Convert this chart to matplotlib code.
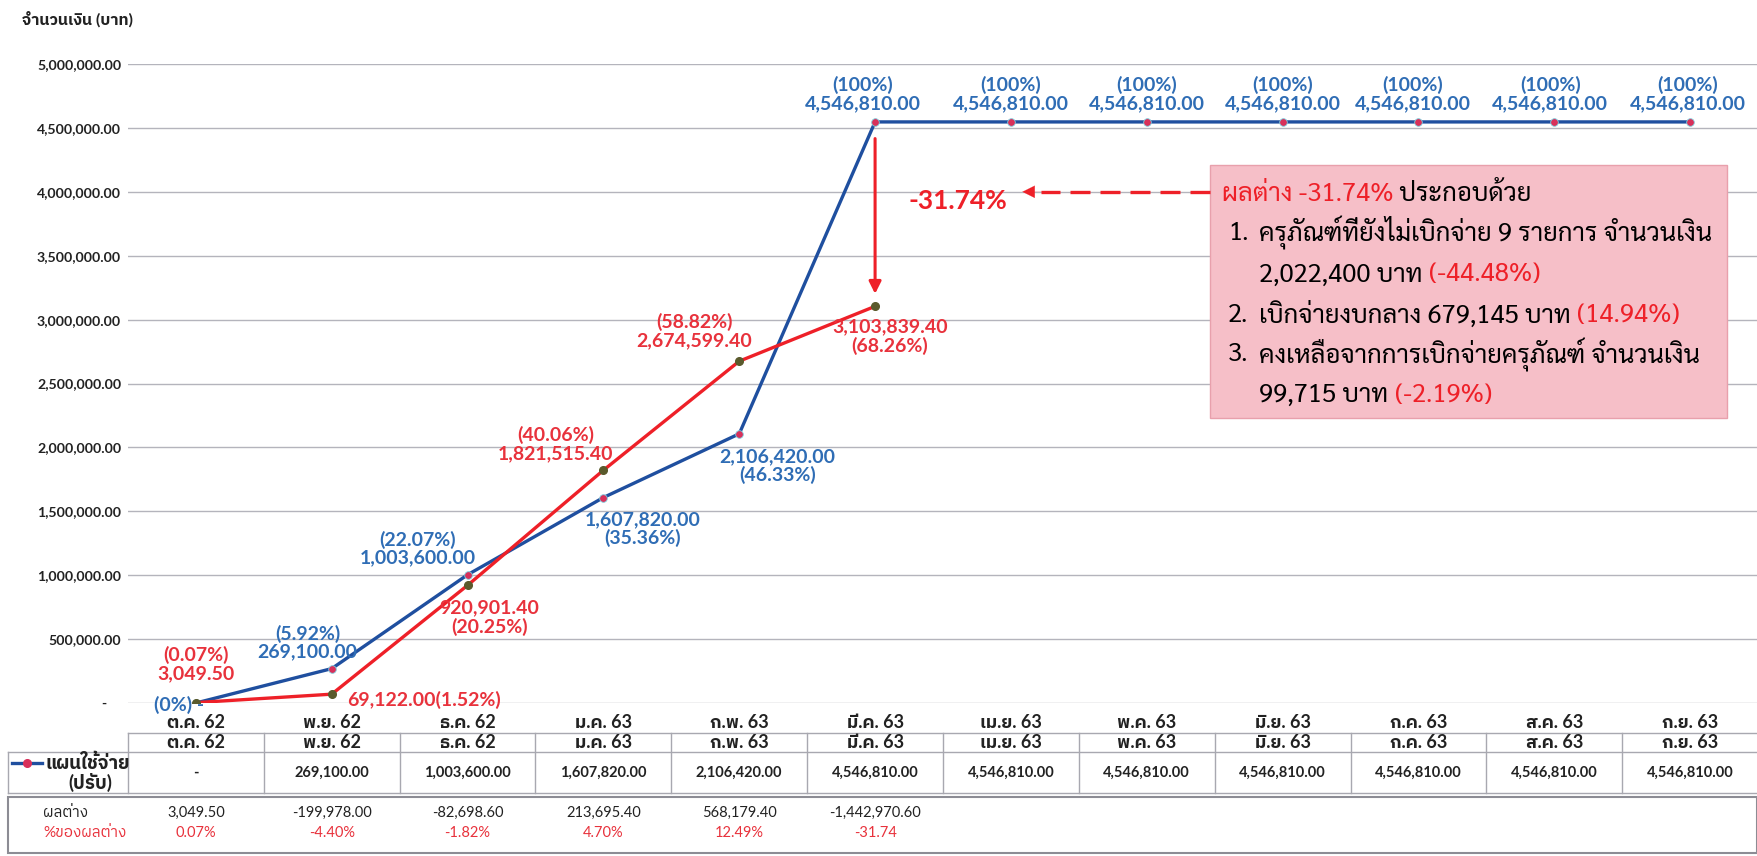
import matplotlib
matplotlib.use("Agg")
import matplotlib.pyplot as plt
from matplotlib.lines import Line2D
from matplotlib.patches import Rectangle
from matplotlib.transforms import blended_transform_factory

plt.rcParams['font.family'] = ['Lato', 'IBM Plex Sans Thai', 'DejaVu Sans']
BOX_FONT = ['Sarabun', 'IBM Plex Sans Thai Looped', 'DejaVu Sans']

months = ['ต.ค. 62', 'พ.ย. 62', 'ธ.ค. 62', 'ม.ค. 63', 'ก.พ. 63', 'มี.ค. 63',
          'เม.ย. 63', 'พ.ค. 63', 'มิ.ย. 63', 'ก.ค. 63', 'ส.ค. 63', 'ก.ย. 63']
plan = [0, 269100.00, 1003600.00, 1607820.00, 2106420.00, 4546810.00,
        4546810.00, 4546810.00, 4546810.00, 4546810.00, 4546810.00, 4546810.00]
plan_pct = ['0%', '5.92%', '22.07%', '35.36%', '46.33%', '100%',
            '100%', '100%', '100%', '100%', '100%', '100%']
actual = [3049.50, 69122.00, 920901.40, 1821515.40, 2674599.40, 3103839.40]
actual_pct = ['0.07%', '1.52%', '20.25%', '40.06%', '58.82%', '68.26%']
diff = [3049.50, -199978.00, -82698.60, 213695.40, 568179.40, -1442970.60]
diff_pct = ['0.07%', '-4.40%', '-1.82%', '4.70%', '12.49%', '-31.74']
y_ticks = [0, 500000, 1000000, 1500000, 2000000, 2500000,
           3000000, 3500000, 4000000, 4500000, 5000000]

BLUE = '#1f4f9f'
BLUE_TXT = '#2f6db5'
RED = '#ee2028'
RED_TXT = '#e8323c'
DARK = '#222222'
W, H = 1758, 856

fig = plt.figure(figsize=(W / 100, H / 100), dpi=100)
ax = fig.add_axes([128 / W, 1 - 703 / H, 1630 / W, 639 / H])

x_plan = list(range(len(plan)))
x_act = list(range(len(actual)))
ax.plot(x_plan, plan, color=BLUE, lw=2.4, marker='o', ms=5.5,
        mfc='#d8305a', mec='#7fd0e0', mew=0.6, zorder=4)
ax.plot(x_act, actual, color=RED, lw=2.4, marker='o', ms=5.5,
        mfc='#5a5a2c', mec='#5a5a2c', zorder=5)

ax.set_xlim(-0.5, 11.5)
ax.set_ylim(0, 5000000)
ax.set_yticks(y_ticks, labels=['-    ' if v == 0 else f'{v:,.2f}' for v in y_ticks],
              fontweight='bold', fontsize=10.2, color=DARK)
ax.set_xticks(x_plan, labels=months, fontweight='bold', fontsize=13, color=DARK)
ax.tick_params(length=0)
ax.tick_params(axis='y', pad=5)
ax.tick_params(axis='x', pad=8)
ax.grid(axis='y', color='#b4b4bc', lw=1)
for s in ax.spines.values():
    s.set_visible(False)

# data labels: (dx, dy, ha, va) in pixels
plan_layout = [(-17, -2, 'center', 'center'), (-24, 8, 'center', 'bottom'),
               (-50, 8, 'center', 'bottom'), (39, -14, 'center', 'top'),
               (38, -14, 'center', 'top'), (-12, 10, 'center', 'bottom'),
               (0, 10, 'center', 'bottom'), (0, 10, 'center', 'bottom'),
               (0, 10, 'center', 'bottom'), (-6, 10, 'center', 'bottom'),
               (-4, 10, 'center', 'bottom'), (-2, 10, 'center', 'bottom')]
for i, (v, p) in enumerate(zip(plan, plan_pct)):
    dx, dy, ha, va = plan_layout[i]
    if v == 0:
        s = f'({p}) -'
    elif va == 'top':
        s = f'{v:,.2f}\n({p})'
    else:
        s = f'({p})\n{v:,.2f}'
    ax.annotate(s, (i, v), xytext=(dx, dy), textcoords='offset pixels',
                ha=ha, va=va, color=BLUE_TXT, fontsize=14, fontweight='bold',
                linespacing=1.05, zorder=6)

act_layout = [(0, 20, 'center', 'bottom'), (15, -6, 'left', 'center'),
              (22, -14, 'center', 'top'), (-48, 8, 'center', 'bottom'),
              (-45, 12, 'center', 'bottom'), (15, -12, 'center', 'top')]
for i, (v, p) in enumerate(zip(actual, actual_pct)):
    dx, dy, ha, va = act_layout[i]
    if ha == 'left':
        s = f'{v:,.2f}({p})'
    elif va == 'top':
        s = f'{v:,.2f}\n({p})'
    else:
        s = f'({p})\n{v:,.2f}'
    ax.annotate(s, (i, v), xytext=(dx, dy), textcoords='offset pixels',
                ha=ha, va=va, color=RED_TXT, fontsize=14, fontweight='bold',
                linespacing=1.1, zorder=6)

# gap arrow at the last actual month
k = len(actual) - 1
ax.annotate('', xy=(k, actual[k]), xytext=(k, plan[k]),
            arrowprops=dict(arrowstyle='-|>', color=RED, lw=2.2,
                            shrinkA=12, shrinkB=9, mutation_scale=18))
ax.text(5.61, 3.93e6, '-31.74%', color=RED, fontsize=19, fontweight='bold',
        ha='center', va='center')

# explanation box
ax.add_patch(Rectangle((0.664, 0.446), 0.317, 0.396, transform=ax.transAxes,
                       fc='#f6bfc8', ec='#e8a0ac', lw=1, zorder=3))
ax.plot([0.664, 0.56], [0.80, 0.80], transform=ax.transAxes, color=RED,
        lw=2.4, ls=(0, (6, 3)), zorder=4)
ax.annotate('', xy=(0.547, 0.80), xytext=(0.57, 0.80), xycoords='axes fraction',
            arrowprops=dict(arrowstyle='-|>', color=RED, lw=0.1, mutation_scale=22))

box_font = dict(fontsize=18.5, family=BOX_FONT, zorder=6)
t = ax.text(0.671, 0.795, 'ผลต่าง -31.74%', transform=ax.transAxes, color=RED,
            va='center', **box_font)
ax.annotate(' ประกอบด้วย', xy=(1, 0.5), xycoords=t, va='center', color='black',
            **box_font)
rows = [('1.', 'ครุภัณฑ์ที่ยังไม่เบิกจ่าย 9 รายการ จำนวนเงิน', None),
        ('', '2,022,400 บาท ', '(-44.48%)'),
        ('2.', 'เบิกจ่ายงบกลาง 679,145 บาท ', '(14.94%)'),
        ('3.', 'คงเหลือจากการเบิกจ่ายครุภัณฑ์ จำนวนเงิน', None),
        ('', '99,715 บาท ', '(-2.19%)')]
row_y = [0.735, 0.670, 0.607, 0.545, 0.482]
for (num, txt, red), yy in zip(rows, row_y):
    if num:
        ax.text(0.675, yy, num, transform=ax.transAxes, va='center', **box_font)
    t = ax.text(0.694, yy, txt, transform=ax.transAxes, va='center', **box_font)
    if red:
        ax.annotate(red, xy=(1, 0.5), xycoords=t, va='center', color=RED,
                    **box_font)

# y axis title
fig.text(22 / W, 1 - 19 / H, 'จำนวนเงิน (บาท)', fontsize=11.5, fontweight='bold',
         va='center', color=DARK)

# data table under the chart
tr = blended_transform_factory(ax.transData, fig.transFigure)
def fy(px):
    return 1 - px / H

LINE = '#a8a8b0'
fig.add_artist(Line2D([-0.5, 11.5], [fy(733), fy(733)], transform=tr, color=LINE, lw=1))
fig.add_artist(Line2D([8 / W, 1], [fy(752), fy(752)], transform=fig.transFigure, color=LINE, lw=1))
fig.add_artist(Line2D([8 / W, 1], [fy(793), fy(793)], transform=fig.transFigure, color=LINE, lw=1))
fig.add_artist(Line2D([8 / W, 8 / W], [fy(752), fy(793)], transform=fig.transFigure, color=LINE, lw=1))
for b in range(len(months) + 1):
    fig.add_artist(Line2D([b - 0.5, b - 0.5], [fy(733), fy(793)], transform=tr,
                          color=LINE, lw=1))
fig.add_artist(Rectangle((8 / W, fy(853)), 1 - 9 / W, (853 - 797) / H,
                         transform=fig.transFigure, fc='none', ec='#8c8c94', lw=1.5))

for i, m in enumerate(months):
    fig.text(i, fy(743), m, transform=tr, ha='center', va='center',
             fontsize=13, fontweight='bold', color=DARK)
    s = '-' if plan[i] == 0 else f'{plan[i]:,.2f}'
    fig.text(i, fy(773), s, transform=tr, ha='center', va='center',
             fontsize=10.5, fontweight='bold', color=DARK)
for i, (d, p) in enumerate(zip(diff, diff_pct)):
    fig.text(i, fy(813), f'{d:,.2f}', transform=tr, ha='center', va='center',
             fontsize=10.5, color=DARK)
    fig.text(i, fy(833), p, transform=tr, ha='center', va='center',
             fontsize=10.5, color=RED_TXT)

fig.add_artist(Line2D([12 / W, 42 / W], [fy(763), fy(763)], transform=fig.transFigure,
                      color=BLUE, lw=2.4))
fig.add_artist(Line2D([27 / W], [fy(763)], transform=fig.transFigure, marker='o',
                      ms=5.5, color='#d8305a'))
fig.text(46 / W, fy(763), 'แผนใช้จ่าย', fontsize=13.5, fontweight='bold',
         va='center', color=DARK)
fig.text(90 / W, fy(782), '(ปรับ)', fontsize=13.5, fontweight='bold',
         ha='center', va='center', color=DARK)
fig.text(43 / W, fy(813), 'ผลต่าง', fontsize=11, va='center', color=DARK)
fig.text(43 / W, fy(833), '%ของผลต่าง', fontsize=11, va='center', color=RED_TXT)

fig.savefig('out.png', dpi=100)
